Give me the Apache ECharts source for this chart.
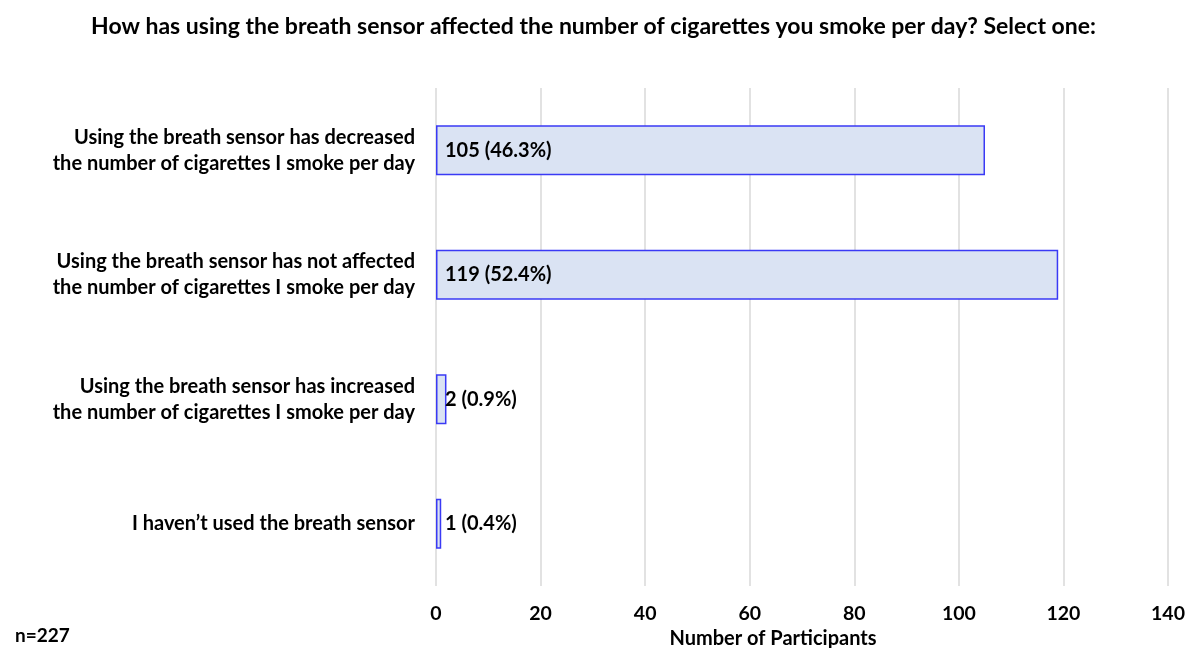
<!DOCTYPE html>
<html><head><meta charset="utf-8">
<script src="https://cdn.jsdelivr.net/npm/echarts@6/dist/echarts.min.js"></script>
<style>html,body{margin:0;padding:0;background:#fff}#c{width:1187px;height:648px}</style>
</head><body><div id="c"></div>
<script>
const categories = [
  "Using the breath sensor has decreased\nthe number of cigarettes I smoke per day",
  "Using the breath sensor has not affected\nthe number of cigarettes I smoke per day",
  "Using the breath sensor has increased\nthe number of cigarettes I smoke per day",
  "I haven\u2019t used the breath sensor"
];
const counts = [105, 119, 2, 1];
const percents = ["46.3%", "52.4%", "0.9%", "0.4%"];
const xTicks = { min: 0, max: 140, interval: 20 };
const titleText = "How has using the breath sensor affected the number of cigarettes you smoke per day? Select one:";
const noteText = "n=227";
const axisName = "Number of Participants";

const FONT = "Lato, sans-serif";
const chart = echarts.init(document.getElementById('c'));
chart.setOption({
  animation: false,
  textStyle: { fontFamily: FONT },
  title: [{
    text: titleText, left: 'center', top: 10,
    textStyle: { fontFamily: FONT, fontSize: 23, fontWeight: 'bold', color: '#000' }
  }, {
    text: noteText, left: 10, top: 621,
    textStyle: { fontFamily: FONT, fontSize: 19, fontWeight: 'bold', color: '#000' }
  }],
  grid: { left: 436, right: 19, top: 88, bottom: 62, containLabel: false, outerBoundsMode: 'none' },
  xAxis: {
    type: 'value', min: xTicks.min, max: xTicks.max, interval: xTicks.interval,
    name: axisName, nameLocation: 'middle', nameGap: 24,
    nameTextStyle: { fontFamily: FONT, fontSize: 20, fontWeight: 'bold', color: '#000', padding: [0, 58, 0, 0] },
    axisLine: { show: false }, axisTick: { show: false },
    axisLabel: { fontFamily: FONT, fontSize: 19.5, fontWeight: 'bold', color: '#000', margin: 18 },
    splitLine: { lineStyle: { color: '#d9d9d9', width: 1.5 } }
  },
  yAxis: {
    type: 'category', data: categories, inverse: true,
    axisLine: { show: false }, axisTick: { show: false },
    axisLabel: { fontFamily: FONT, fontSize: 20, fontWeight: 'bold', color: '#000', margin: 21, lineHeight: 26, align: 'right' }
  },
  series: [{
    type: 'bar', data: counts, barWidth: 50,
    itemStyle: { color: '#dae3f3', borderColor: '#3a3af5', borderWidth: 1.5 },
    label: {
      show: true, position: 'insideLeft', distance: 9,
      fontFamily: FONT, fontSize: 20, fontWeight: 'bold', color: '#000',
      formatter: p => p.value + ' (' + percents[p.dataIndex] + ')'
    }
  }]
});
</script></body></html>
